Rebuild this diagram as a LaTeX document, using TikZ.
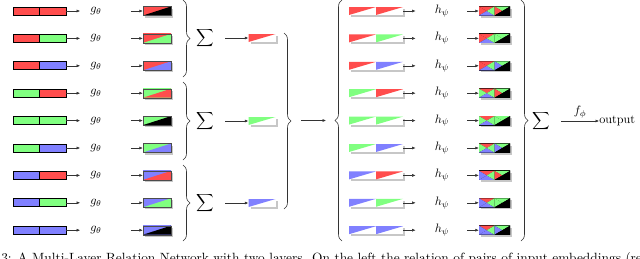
\documentclass[tikz,border=0pt]{standalone}
\usetikzlibrary{arrows.meta,decorations.pathreplacing,shadows}
\definecolor{cr}{RGB}{255,77,77}
\definecolor{cg}{RGB}{128,255,128}
\definecolor{cb}{RGB}{128,128,255}
\tikzset{
  pp/.style={path picture={\begin{scope}[shift={(path picture bounding box.center)},x=1pt,y=1pt]#1\end{scope}}},
  shad/.style={general shadow={fill=black!22,shadow xshift=2pt,shadow yshift=-2pt}},
  inbar/.style 2 args={minimum width=53pt,minimum height=8pt,inner sep=0pt,draw=black,line width=0.8pt,
    pp={\fill[#1] (-30,-10) rectangle (0,10); \fill[#2] (0,-10) rectangle (30,10); \draw[line width=0.8pt] (0,-5)--(0,5);}},
  gbox/.style 2 args={minimum width=28pt,minimum height=9pt,inner sep=0pt,draw=black!70,line width=0.4pt,shad,
    pp={\fill[#1] (-20,-10) rectangle (20,10); \fill[#2] (-14,-4.5)--(14,4.5)--(14,-4.5)--cycle;}},
  sbox/.style={minimum width=27pt,minimum height=8pt,inner sep=0pt,fill=white,shad,
    pp={\fill[#1] (-13.5,-4)--(-13.5,4)--(13.5,4)--cycle;}},
  hbox/.style n args={8}{minimum width=31pt,minimum height=9pt,inner sep=0pt,shad,
    pp={\fill[black] (-20,-10) rectangle (20,10);
      \fill[#1] (-15.5,4.5)--(0,4.5)--(-7.75,0)--cycle;
      \fill[#2] (-15.5,4.5)--(-15.5,-4.5)--(-7.75,0)--cycle;
      \fill[#3] (-15.5,-4.5)--(0,-4.5)--(-7.75,0)--cycle;
      \fill[#4] (0,4.5)--(0,-4.5)--(-7.75,0)--cycle;
      \fill[#5] (0,4.5)--(15.5,4.5)--(7.75,0)--cycle;
      \fill[#6] (0,4.5)--(0,-4.5)--(7.75,0)--cycle;
      \fill[#7] (0,-4.5)--(15.5,-4.5)--(7.75,0)--cycle;
      \fill[#8] (15.5,4.5)--(15.5,-4.5)--(7.75,0)--cycle;}},
  txt/.style={inner sep=0pt,scale=1.22},
  arr/.style={-{Latex[length=3.5pt,width=3pt]},line width=0.5pt,black!80},
  brc/.style={decorate,decoration={brace,amplitude=7pt},line width=0.6pt,black!80},
}
\begin{document}
\begin{tikzpicture}[x=1pt,y=-1pt]
\useasboundingbox (0,0) rectangle (640,258);
\foreach \k/\a/\b/\c in {0/cr/cr/black,1/cr/cg/cg,2/cr/cb/cb,3/cg/cr/cr,4/cg/cg/black,5/cg/cb/cb,6/cb/cr/cr,7/cb/cg/cg,8/cb/cb/black}{
  \pgfmathsetmacro\y{11+27.4*\k}
  \node[inbar={\a}{\b}] (in\k) at (39.5,\y) {};
  \node[txt] (g\k) at (96,\y) {$g_\theta$};
  \node[gbox={\a}{\c}] (go\k) at (157,\y) {};
  \draw[arr,shorten >=10pt] (in\k) -- (g\k);
  \draw[arr,shorten <=29pt] (g\k) -- (go\k);
  \node[sbox=\a] (pa\k) at (362.5,\y) {};
  \node[sbox=\b] (pb\k) at (389.5,\y) {};
  \node[txt] (h\k) at (442,\y) {$h_\psi$};
  \node[hbox={cr}{\a}{cb}{cg}{cg}{\b}{black}{black}] (ho\k) at (494.5,\y) {};
  \draw[arr,shorten >=19pt] (pb\k) -- (h\k);
  \draw[arr,shorten <=18pt] (h\k) -- (ho\k);
}
% first-layer braces and sums
\draw[brc] (183,0) -- (183,77);
\draw[brc] (183,82) -- (183,160);
\draw[brc] (183,165) -- (183,241);
\foreach \j/\a/\y in {1/cr/38,2/cg/121,3/cb/203}{
  \node[txt] (s\j) at (205,\y) {$\displaystyle\sum$};
  \node[sbox=\a] (m\j) at (262,\y) {};
  \draw[arr,shorten <=11pt] (s\j) -- (m\j);
}
\draw[brc] (284,33) -- (284,209);
\coordinate (c1) at (301,120.5);
\coordinate (c2) at (326,120.5);
\draw[arr] (c1) -- (c2);
% second-layer braces
\draw[brc] (342,241) -- (342,0);
\draw[brc] (521,0) -- (521,241);
\node[txt] (s4) at (541,121) {$\displaystyle\sum$};
\node[txt,anchor=west] (out) at (599,121) {output};
\draw[arr,shorten <=11pt] (s4) -- (out);
\node[txt] (f) at (580,112) {$f_\phi$};
% caption (cut off at the lower edge, as in the reference)
\begin{scope}
\clip (0,0) rectangle (640,258);
\node[inner sep=0pt,scale=1.34,anchor=base west] (cap) at (1,262) {3: A Multi-Layer Relation Network with two layers. On the left the relation of pairs of input embeddings (red,};
\end{scope}
\end{tikzpicture}
\end{document}
